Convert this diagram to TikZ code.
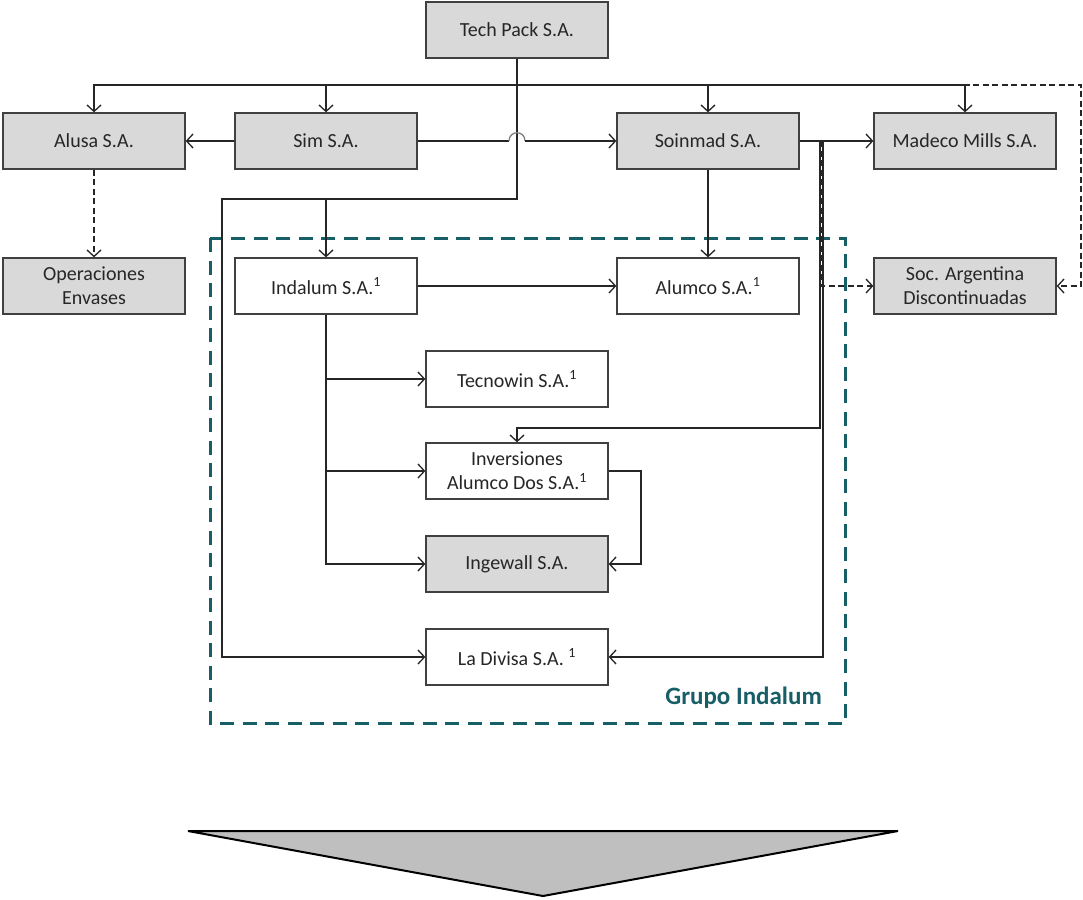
\documentclass[tikz,border=0pt]{standalone}
\usepackage{fontspec}
\setmainfont{Carlito}
\usetikzlibrary{arrows.meta}
\definecolor{boxgray}{HTML}{D9D9D9}
\definecolor{edgegray}{HTML}{404040}
\definecolor{tealgrp}{HTML}{175E66}
\definecolor{trigray}{HTML}{BFBFBF}
\begin{document}
\begin{tikzpicture}[x=1pt,y=-1pt,
  box/.style={draw=edgegray, line width=1.3pt, minimum width=182pt, minimum height=56pt,
    align=center, inner sep=0pt, font=\fontsize{20}{24}\selectfont, text=black!85},
  gbox/.style={box, fill=boxgray},
  wbox/.style={box, fill=white},
  conn/.style={line width=1.3pt, draw=black!85},
  arr/.style={conn, -{Straight Barb[length=6.5pt,width=14pt,line width=1.3pt]}},
  darr/.style={arr, dash pattern=on 6pt off 3.5pt},
  hop/.style={line width=1.3pt, draw=gray},
  grpbox/.style={draw=tealgrp, line width=3pt, dash pattern=on 14pt off 8.5pt},
  grplabel/.style={anchor=east, text=tealgrp, font=\fontsize{25}{30}\selectfont\bfseries, inner sep=0pt},
  bigarrow/.style={draw=black, line width=2pt, fill=trigray, line join=miter}
]
\useasboundingbox (0,0) rectangle (1083,899);

% group frame
\draw[grpbox] (210,238) rectangle (845,723);
\node[grplabel] (grp) at (822,698) {Grupo Indalum};

% nodes
\node[gbox] (tp) at (517,30) {Tech Pack S.A.};
\node[gbox] (alusa) at (94,141) {Alusa S.A.};
\node[gbox] (sim) at (326,141) {Sim S.A.};
\node[gbox] (soin) at (708,141) {Soinmad S.A.};
\node[gbox] (madeco) at (965,141) {Madeco Mills S.A.};
\node[gbox] (ope) at (94,286) {Operaciones\\Envases};
\node[wbox] (indalum) at (326,286) {Indalum S.A.\textsuperscript{1}};
\node[wbox] (alumco) at (708,286) {Alumco S.A.\textsuperscript{1}};
\node[gbox] (soc) at (965,286) {Soc. Argentina\\Discontinuadas};
\node[wbox] (tecno) at (517,379) {Tecnowin S.A.\textsuperscript{1}};
\node[wbox] (inv) at (517,471) {Inversiones\\Alumco Dos S.A.\textsuperscript{1}};
\node[gbox] (inge) at (517,564) {Ingewall S.A.};
\node[wbox] (ladiv) at (517,657) {La Divisa S.A. \textsuperscript{1}};

% coordinates
\coordinate (j1) at (517,85);
\coordinate (dr) at (1081,85);
\coordinate (j2) at (517,199);
\coordinate (j3) at (222,199);
\coordinate (hl) at (509,141);
\coordinate (hr) at (525,141);
\coordinate (s1) at (820,141);
\coordinate (s1b) at (820,428);
\coordinate (s2) at (823,141);
\coordinate (sd) at (821.5,141);
\coordinate (ir) at (641,471);

% Tech Pack connectors
\draw[conn] (tp.south) -- (j1);
\draw[darr] (j1) -- (dr) |- (soc.east);
\draw[arr] (j1) -| (alusa.north);
\draw[arr] (sim.north |- j1) -- (sim.north);
\draw[arr] (j1) -| (soin.north);
\draw[arr] (j1) -| (madeco.north);
\draw[arr] (j1) -- (j2) -- (j3) |- (ladiv.west);
\draw[arr] (indalum.north |- j2) -- (indalum.north);

% Sim
\draw[arr] (sim.west) -- (alusa.east);
\draw[conn] (sim.east) -- (hl);
\draw[hop] (hl) .. controls (509,130) and (525,130) .. (hr);
\draw[arr] (hr) -- (soin.west);

% Alusa
\draw[darr] (alusa.south) -- (ope.north);

% Soinmad
\draw[arr] (soin.east) -- (madeco.west);
\draw[arr] (soin.south) -- (alumco.north);
\draw[arr] (s1) -- (s1b) -| (inv.north);
\draw[arr] (s2) |- (ladiv.east);
\draw[darr] (sd) |- (soc.west);

% Indalum
\draw[arr] (indalum.east) -- (alumco.west);
\draw[arr] (indalum.south) |- (inge.west);
\draw[arr] (indalum.south |- tecno.west) -- (tecno.west);
\draw[arr] (indalum.south |- inv.west) -- (inv.west);

% Inversiones -> Ingewall
\draw[arr] (inv.east) -- (ir) |- (inge.east);

% big down arrow
\draw[bigarrow] (188,831) -- (898,831) -- (543,896) -- cycle;
\end{tikzpicture}
\end{document}
